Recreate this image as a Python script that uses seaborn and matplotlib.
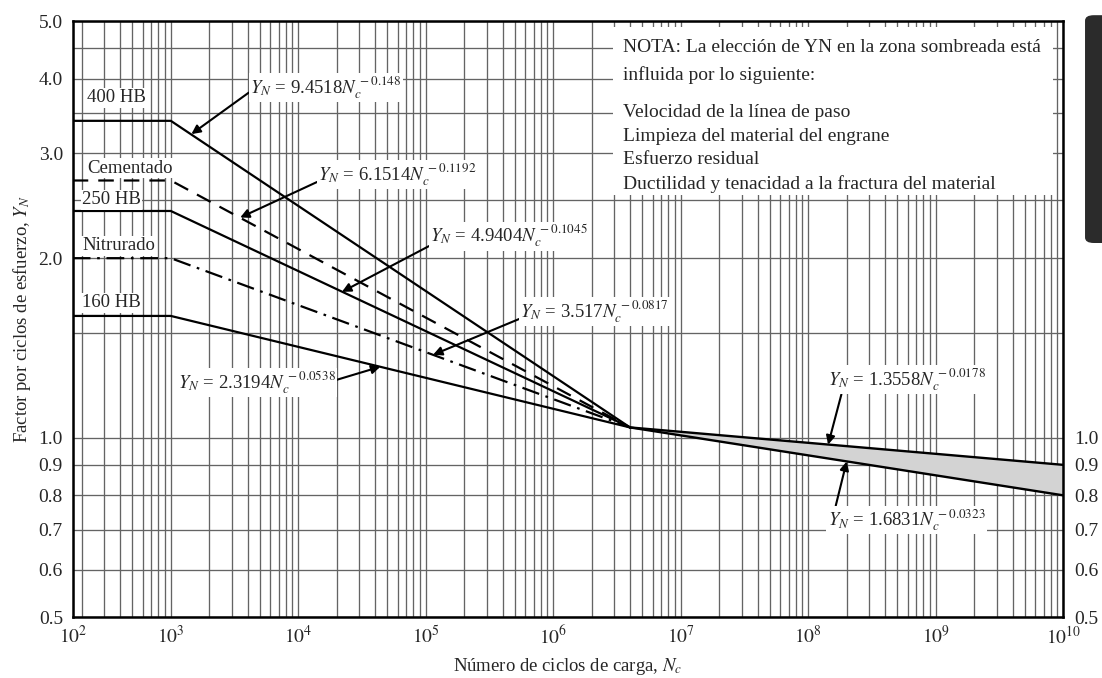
import numpy as np
import pandas as pd
import matplotlib.pyplot as plt
import matplotlib.ticker as mticker
from matplotlib.patches import Rectangle, FancyBboxPatch
import seaborn as sns

# values: N_c (load cycles) and Y_N (stress cycle factor)
n_left = 170      # left edge of the printed axis (it is marked 10^2)
n_knee = 1e3
n_meet = 4e6      # all curves meet here
n_right = 1e10
y_meet = 1.04

curve_names = ['400 HB', 'Cementado', '250 HB', 'Nitrurado', '160 HB']
curve_start = [3.40, 2.70, 2.40, 2.00, 1.60]
curve_styles = ['-', (0, (7, 4.5)), '-', (0, (8, 3, 1.2, 3)), '-']

band_n = [n_meet, n_right]
band_upper = [y_meet, 0.90]
band_lower = [y_meet, 0.80]

y_ticks_left = [0.5, 0.6, 0.7, 0.8, 0.9, 1.0, 2.0, 3.0, 4.0, 5.0]
y_ticks_right = [0.5, 0.6, 0.7, 0.8, 0.9, 1.0]
y_grid_minor = [1.5, 2.5, 3.5, 4.5]
x_ticks = [n_left, 1e3, 1e4, 1e5, 1e6, 1e7, 1e8, 1e9, 1e10]
x_labels = ['$10^{%d}$' % k for k in range(2, 11)]

# equation labels: text, arrow tip (N, Y), text position (axes fraction), arrow start on the text box
equations = [
    (r'$Y_N$ = 9.4518$N_c^{\,-0.148}$', 1.45e3, 3.23, (0.179, 0.888), (0.0, 0.35)),
    (r'$Y_N$ = 6.1514$N_c^{\,-0.1192}$', 3.5e3, 2.34, (0.248, 0.742), (0.0, 0.25)),
    (r'$Y_N$ = 4.9404$N_c^{\,-0.1045}$', 2.2e4, 1.756, (0.361, 0.639), (0.0, 0.15)),
    (r'$Y_N$ = 3.517$N_c^{\,-0.0817}$', 1.14e5, 1.377, (0.452, 0.512), (0.0, 0.25)),
    (r'$Y_N$ = 2.3194$N_c^{\,-0.0538}$', 4.4e4, 1.315, (0.106, 0.393), (1.0, 0.6)),
    (r'$Y_N$ = 1.3558$N_c^{\,-0.0178}$', 1.43e8, 0.973, (0.762, 0.398), (0.09, 0.0)),
    (r'$Y_N$ = 1.6831$N_c^{\,-0.0323}$', 2.0e8, 0.912, (0.762, 0.163), (0.05, 1.0)),
]
label_pos = [(0.0144, 0.871), (0.0144, 0.753), (0.0094, 0.700), (0.0094, 0.6225), (0.0094, 0.527)]

note_lines = [
    'NOTA: La elección de YN en la zona sombreada está',
    'influida por lo siguiente:',
    'Velocidad de la línea de paso',
    'Limpieza del material del engrane',
    'Esfuerzo residual',
    'Ductilidad y tenacidad a la fractura del material',
]
note_y = [0.956, 0.909, 0.846, 0.806, 0.767, 0.726]

sns.set_style('white')
plt.rcParams['font.family'] = ['Liberation Serif', 'DejaVu Serif']
plt.rcParams['mathtext.fontset'] = 'stix'

rows = []
for name, y0 in zip(curve_names, curve_start):
    for n, y in zip([n_left, n_knee, n_meet], [y0, y0, y_meet]):
        rows.append({'curve': name, 'N': n, 'Y': y})
df = pd.DataFrame(rows)

fig = plt.figure(figsize=(11.02, 6.78), dpi=100)
ax = fig.add_axes([72.7 / 1102, 61 / 678, 990.6 / 1102, 596 / 678])
ax.set_xscale('log')
ax.set_yscale('log')
ax.set_xlim(n_left, n_right)
ax.set_ylim(0.5, 5.0)
ax.set_axisbelow(True)

# grid
ax.xaxis.set_major_locator(mticker.FixedLocator(x_ticks))
ax.xaxis.set_major_formatter(mticker.FixedFormatter(x_labels))
ax.xaxis.set_minor_locator(mticker.LogLocator(base=10, subs=np.arange(2, 10), numticks=100))
ax.xaxis.set_minor_formatter(mticker.NullFormatter())
ax.yaxis.set_major_locator(mticker.FixedLocator(y_ticks_left))
ax.yaxis.set_major_formatter(mticker.FixedFormatter(['%.1f' % v for v in y_ticks_left]))
ax.yaxis.set_minor_locator(mticker.FixedLocator(y_grid_minor))
ax.yaxis.set_minor_formatter(mticker.NullFormatter())
ax.grid(which='both', color='#646464', lw=0.95)
ax.tick_params(which='both', length=0, labelsize=14)
ax.tick_params(axis='x', pad=6)
ax.tick_params(axis='y', pad=7)
for s in ax.spines.values():
    s.set_color('black')
    s.set_linewidth(1.8)

# white box for the note
ax.add_patch(Rectangle((0.545, 0.708), 0.4445, 0.282, transform=ax.transAxes,
                       fc='white', ec='none', zorder=1))

# shaded zone
ax.fill_between(band_n, band_upper, band_lower, color='#d3d3d3', lw=0, zorder=2)
sns.lineplot(x=band_n, y=band_upper, color='black', lw=1.7, ax=ax, zorder=3)
sns.lineplot(x=band_n, y=band_lower, color='black', lw=1.7, ax=ax, zorder=3)

for name, ls in zip(curve_names, curve_styles):
    d = df[df['curve'] == name]
    sns.lineplot(data=d, x='N', y='Y', color='black', lw=1.6, linestyle=ls,
                 sort=False, estimator=None, ax=ax, zorder=3)

box = dict(fc='white', ec='none', pad=1.0)
for name, (tx, ty) in zip(curve_names, label_pos):
    ax.text(tx, ty, name, transform=ax.transAxes, fontsize=13.5,
            ha='left', va='center', bbox=box, zorder=4)

for txt, nx, ny, (tx, ty), rel in equations:
    ax.annotate(txt, xy=(nx, ny), xycoords='data', xytext=(tx, ty),
                textcoords='axes fraction', fontsize=13.5, ha='left', va='center',
                bbox=box, zorder=5,
                arrowprops=dict(arrowstyle='-|>', color='black', lw=1.5, relpos=rel,
                                mutation_scale=13, shrinkA=0, shrinkB=0))

for line, ly in zip(note_lines, note_y):
    ax.text(0.556, ly, line, transform=ax.transAxes, fontsize=14,
            ha='left', va='center', zorder=4)

ax.set_xlabel('Número de ciclos de carga, $N_c$', fontsize=13.5, labelpad=6)
ax.set_ylabel('Factor por ciclos de esfuerzo, $Y_N$', fontsize=13.5, labelpad=4)

# right-hand labels for the low range
ax2 = ax.twinx()
ax2.set_yscale('log')
ax2.set_ylim(0.5, 5.0)
ax2.yaxis.set_major_locator(mticker.FixedLocator(y_ticks_right))
ax2.yaxis.set_major_formatter(mticker.FixedFormatter(['%.1f' % v for v in y_ticks_right]))
ax2.yaxis.set_minor_locator(mticker.NullLocator())
ax2.tick_params(length=0, labelsize=14, pad=8)
for s in ax2.spines.values():
    s.set_visible(False)

# dark tab at the right edge of the page
fig.add_artist(FancyBboxPatch((0.9846, 0.6416), 0.05, 0.336,
                              boxstyle='round,pad=0,rounding_size=0.008',
                              transform=fig.transFigure, fc='#2b2b2b', ec='none'))

fig.savefig('out.png', dpi=100)
